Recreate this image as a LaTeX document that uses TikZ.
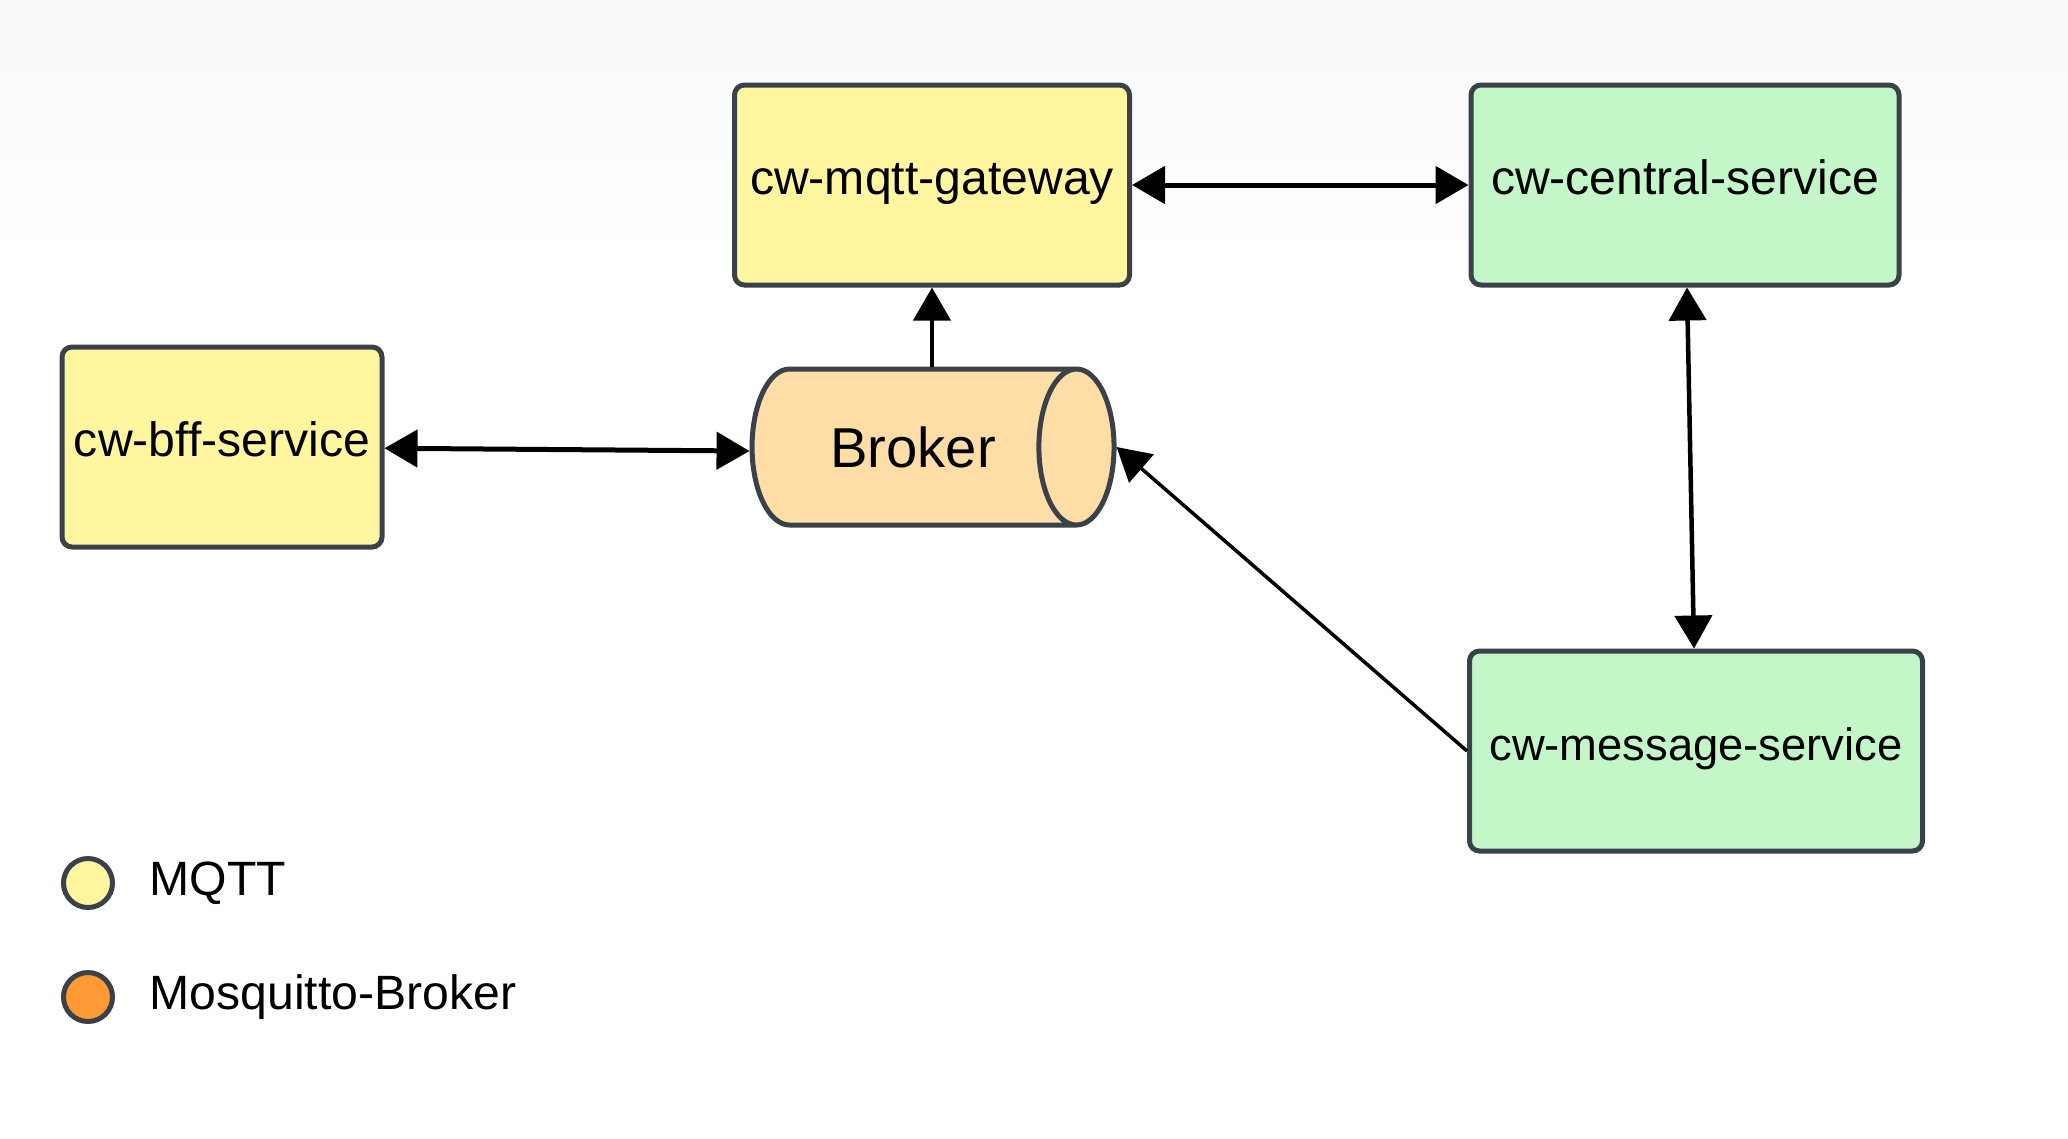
\documentclass[tikz,border=0pt]{standalone}
\usepackage{fontspec}
\setmainfont{Liberation Sans}
\usetikzlibrary{shapes.geometric,arrows.meta}

\definecolor{mqttfill}{HTML}{FFF69F}
\definecolor{svcfill}{HTML}{C3F7C8}
\definecolor{brokerfill}{HTML}{FEDDA6}
\definecolor{mosqfill}{HTML}{FF9933}
\definecolor{bordergray}{HTML}{3A414A}

\tikzset{
  svc/.style={draw=bordergray, line width=0.5mm, rounded corners=1mm,
    minimum height=20mm, inner sep=0pt, text height=0.73em, text depth=0.21em,
    font=\fontsize{13.7}{16}\selectfont},
  dot/.style={circle, draw=bordergray, line width=0.5mm, minimum size=4.9mm, inner sep=0pt},
  legendtext/.style={anchor=west, inner sep=0pt, font=\fontsize{13.7}{16}\selectfont},
}

\begin{document}
\begin{tikzpicture}[x=0.1mm, y=-0.1mm, >={Triangle[length=3.3mm,width=3.7mm]}]
  \useasboundingbox (0,0) rectangle (2068,1138);
  \fill[white] (0,0) rectangle (2068,1138);
  \shade[top color=gray!5, bottom color=white] (0,0) rectangle (2068,260);

  % services
  \node[svc, fill=mqttfill, minimum width=39.5mm] (gateway) at (932,185) {cw-mqtt-gateway};
  \node[svc, fill=svcfill, minimum width=42.8mm] (central) at (1685,185) {cw-central-service};
  \node[svc, fill=mqttfill, minimum width=32mm] (bff) at (222,447) {cw-bff-service};
  \node[svc, fill=svcfill, minimum width=45.3mm, font=\fontsize{12.9}{15}\selectfont] (message) at (1696,751) {cw-message-service};
  \node[cylinder, draw=bordergray, line width=0.5mm, fill=brokerfill, aspect=1.82,
    minimum height=36.2mm, minimum width=15.6mm, inner sep=0pt,
    font=\fontsize{16}{19}\selectfont] (broker) at (913,447) {Broker};

  % connections
  \draw[<->, line width=0.5mm] (gateway) -- (central);
  \draw[<->, line width=0.5mm] (bff) -- ([yshift=-0.4mm]broker.west);
  \draw[->, line width=0.4mm] (gateway.south |- broker.north) -- (gateway.south);
  \draw[<->, line width=0.45mm] (central) -- (message);
  \draw[->, line width=0.35mm] (message.west) -- (broker.east);

  % legend
  \node[dot, fill=mqttfill] (mqttdot) at (88,883) {};
  \node[legendtext] (mqttlabel) at (149,883) {MQTT};
  \node[dot, fill=mosqfill] (mosqdot) at (88,997) {};
  \node[legendtext] (mosqlabel) at (149,997) {Mosquitto-Broker};
\end{tikzpicture}
\end{document}
